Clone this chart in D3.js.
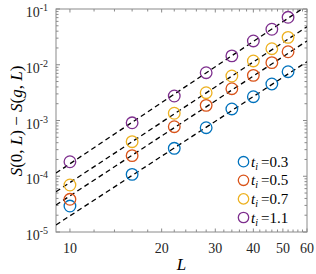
<!DOCTYPE html>
<html><head><meta charset="utf-8">
<script src="https://cdn.jsdelivr.net/npm/d3@7"></script>
<style>body{margin:0;background:#fff}svg{display:block}</style>
</head><body>
<svg id="c" width="316" height="274"></svg>
<script>
const L = [10, 16, 22, 28, 34, 40, 46, 52];
const tiLabels = ["0.3", "0.5", "0.7", "1.1"];
const vals03 = [2.92e-5, 1.08e-4, 3.17e-4, 7.43e-4, 1.61e-3, 2.67e-3, 4.52e-3, 7.5e-3];
const vals05 = [3.86e-5, 2.34e-4, 7.74e-4, 1.87e-3, 3.72e-3, 6.46e-3, 1.09e-2, 1.71e-2];
const vals07 = [6.97e-5, 4.17e-4, 1.35e-3, 3.15e-3, 6.28e-3, 1.17e-2, 1.94e-2, 3.1e-2];
const vals11 = [1.82e-4, 9.1e-4, 2.75e-3, 7.2e-3, 1.44e-2, 2.67e-2, 4.33e-2, 7.1e-2];
const fitL = [9, 60];
const fit03 = [1.34e-5, 1.135e-2];
const fit05 = [3.05e-5, 2.67e-2];
const fit07 = [5.28e-5, 4.82e-2];
const fit11 = [1.14e-4, 0.115];
const xTicks = [10, 20, 30, 40, 50, 60];
const xMinor = d3.range(10, 61, 2);
const yTicks = [1e-5, 1e-4, 1e-3, 1e-2, 1e-1];
const yExp = ["-5", "-4", "-3", "-2", "-1"];

const colors = ["#0072BD", "#D95319", "#EDB120", "#7E2F8E"];
const series = [vals03, vals05, vals07, vals11];
const fits = [fit03, fit05, fit07, fit11];

const svg = d3.select("#c");
const m = {l: 56, r: 307, t: 9, b: 232};
const x = d3.scaleLog().domain([9, 60]).range([m.l, m.r]);
const y = d3.scaleLog().domain([1e-5, 1e-1]).range([m.b, m.t]);

svg.append("defs").append("clipPath").attr("id", "clip")
  .append("rect").attr("x", m.l).attr("y", m.t).attr("width", m.r - m.l).attr("height", m.b - m.t);

const axisCol = "#8a8a8a";
const g = svg.append("g");
// box
g.append("rect").attr("x", m.l).attr("y", m.t).attr("width", m.r - m.l).attr("height", m.b - m.t)
  .attr("fill", "none").attr("stroke", axisCol).attr("stroke-width", 1);

// x ticks (inward, bottom and top)
xMinor.forEach(v => {
  const px = x(v);
  const len = xTicks.includes(v) ? 3.5 : 2.5;
  g.append("line").attr("x1", px).attr("x2", px).attr("y1", m.b).attr("y2", m.b - len).attr("stroke", axisCol);
  g.append("line").attr("x1", px).attr("x2", px).attr("y1", m.t).attr("y2", m.t + len).attr("stroke", axisCol);
});
// y ticks
const yMinor = [];
for (let e = -5; e < -1; e++) for (let k = 2; k <= 9; k++) yMinor.push(k * Math.pow(10, e));
yMinor.forEach(v => {
  const py = y(v);
  g.append("line").attr("x1", m.l).attr("x2", m.l + 2.5).attr("y1", py).attr("y2", py).attr("stroke", axisCol);
  g.append("line").attr("x1", m.r).attr("x2", m.r - 2.5).attr("y1", py).attr("y2", py).attr("stroke", axisCol);
});
yTicks.forEach(v => {
  const py = y(v);
  g.append("line").attr("x1", m.l).attr("x2", m.l + 4).attr("y1", py).attr("y2", py).attr("stroke", axisCol);
  g.append("line").attr("x1", m.r).attr("x2", m.r - 4).attr("y1", py).attr("y2", py).attr("stroke", axisCol);
});

const font = "'Liberation Serif', 'Times New Roman', serif";
// x tick labels
xTicks.forEach(v => {
  svg.append("text").attr("x", x(v)).attr("y", 253).attr("text-anchor", "middle")
    .attr("font-family", font).attr("font-size", 14).attr("fill", "#262626").text(v);
});
// y tick labels
yTicks.forEach((v, i) => {
  const t = svg.append("text").attr("x", 48).attr("y", y(v) + 8).attr("text-anchor", "end")
    .attr("font-family", font).attr("font-size", 14).attr("fill", "#262626");
  t.append("tspan").text("10");
  t.append("tspan").attr("font-size", 10).attr("dy", -6).text(yExp[i]);
});

// fit lines
const line = d3.line().x(d => x(d[0])).y(d => y(d[1]));
const pl = svg.append("g").attr("clip-path", "url(#clip)");
fits.forEach(f => {
  pl.append("path").attr("d", line(fitL.map((l, i) => [l, f[i]])))
    .attr("fill", "none").attr("stroke", "#000").attr("stroke-width", 1.3).attr("stroke-dasharray", "5,3.5");
});
// markers
series.forEach((s, si) => {
  pl.selectAll(null).data(s).enter().append("circle")
    .attr("cx", (d, i) => x(L[i])).attr("cy", d => y(d)).attr("r", 5.8)
    .attr("fill", "none").attr("stroke", colors[si]).attr("stroke-width", 1.3);
});

// legend
const lg = svg.append("g");
tiLabels.forEach((t, i) => {
  const ly = 161.7 + i * 18.6;
  lg.append("circle").attr("cx", 243.5).attr("cy", ly).attr("r", 5.2)
    .attr("fill", "none").attr("stroke", colors[i]).attr("stroke-width", 1.3);
  const tx = lg.append("text").attr("x", 251).attr("y", ly + 5)
    .attr("font-family", font).attr("font-size", 15).attr("fill", "#000");
  tx.append("tspan").attr("font-style", "italic").text("t");
  tx.append("tspan").attr("font-style", "italic").attr("font-size", 10).attr("dy", 3).text("i");
  tx.append("tspan").attr("dy", -3).attr("dx", 3).text("=" + t);
});

// axis labels
svg.append("text").attr("x", 181.5).attr("y", 270).attr("text-anchor", "middle")
  .attr("font-family", font).attr("font-size", 17).attr("font-style", "italic").text("L");
const yl = svg.append("text").attr("transform", "translate(22,121) rotate(-90)").attr("text-anchor", "middle")
  .attr("font-family", font).attr("font-size", 17);
[["S", 1], ["(0, ", 0], ["L", 1], [") \u2212 ", 0], ["S", 1], ["(", 0], ["g", 1], [", ", 0], ["L", 1], [")", 0]]
  .forEach(([s, it]) => yl.append("tspan").attr("font-style", it ? "italic" : "normal").text(s));
</script>
</body></html>
